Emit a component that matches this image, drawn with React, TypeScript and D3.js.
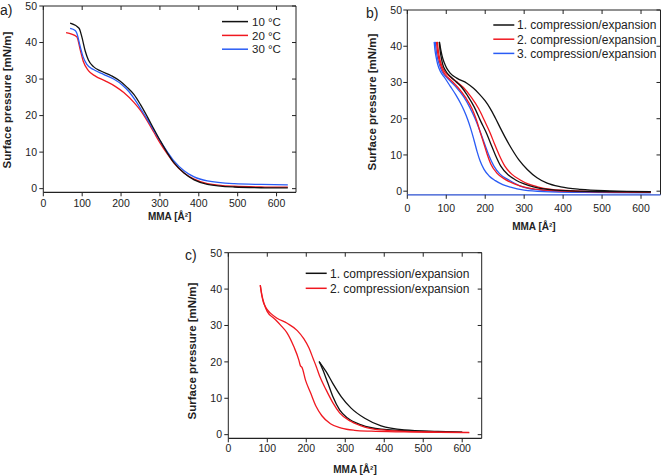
import React from 'react';
import * as d3 from 'd3';

type Pt = [number, number];

const xTicks = [0, 100, 200, 300, 400, 500, 600];
const yTicks = [0, 10, 20, 30, 40, 50];

// Panel a) temperature series
const aLabels = ['10 °C', '20 °C', '30 °C'];
const a10: Pt[] = [[69,45.3],[92,43.9],[99,41.6],[108,37.6],[116,35.2],[129,33.4],[148,32.2],[175,30.9],[198,29.4],[215,27.8],[233,25.8],[250,23.0],[267,19.8],[284,16.4],[301,13.1],[319,9.8],[336,7.1],[362,4.3],[388,2.4],[422,1.2],[491,0.45],[560,0.25],[629,0.2]];
const a20: Pt[] = [[58.6,42.7],[86,41.6],[95,38],[103,34.8],[116,32.3],[134,30.8],[159,29.5],[185,28],[207,26.3],[233,23.6],[250,21.4],[267,18.6],[284,15.5],[301,12.4],[319,9.5],[336,7.0],[362,4.3],[388,2.6],[422,1.4],[491,0.65],[560,0.45],[629,0.4]];
const a30: Pt[] = [[69,43.9],[82,43.3],[86,42.6],[95,38.9],[102,36.2],[112,34],[129,32.6],[155,31.3],[181,30],[203,28.4],[220,26.6],[236,24.3],[252,21.6],[268,18.9],[284,16.0],[301,13.0],[319,10.1],[336,7.6],[362,4.9],[388,3.2],[422,2.1],[491,1.35],[560,1.15],[629,1.05]];

// Panel b) three compression/expansion cycles (two branches each)
const bLabels = ['1. compression/expansion', '2. compression/expansion', '3. compression/expansion'];
const b1Out: Pt[] = [[82.5,41.2],[86,39],[89,37.5],[93,36],[97,34.9],[103,33.6],[110,32.6],[127,31.2],[153,29.8],[170,28.4],[185,26.8],[200,24.9],[213,22.8],[226,20.2],[239,17.4],[252,14.7],[269,11.5],[286,8.7],[308,6],[333,3.7],[359,2.2],[394,1.2],[445,0.5],[520,0.1],[625,-0.1]];
const b1In: Pt[] = [[82,41.2],[84,39],[87,37],[91,35],[98,33.3],[112,31.5],[125,30.2],[138,28.9],[155,26.3],[172,23.2],[188,19.4],[205,15.6],[216,12.6],[226,10],[240,6.9],[258,4.6],[278,3.1],[300,2],[324,1.2],[360,0.5],[420,0.1],[500,-0.1],[625,-0.2]];
const b2Out: Pt[] = [[77,41.2],[80,38.5],[84,36.2],[89,34.5],[96,33],[110,31.6],[127,30.2],[144,28.6],[165,25.8],[183,22.8],[198,19.5],[213,16],[224,13],[235,10.2],[250,7],[268,4.7],[290,3.1],[310,2],[334,1.2],[370,0.5],[430,0.1],[520,-0.1],[625,-0.2]];
const b2In: Pt[] = [[75,41.2],[77,39],[80,37],[85,35],[92,33],[105,31.3],[118,30],[130,28.6],[150,25.8],[166,22.8],[178,19.5],[188,16],[198,12.6],[205,10.2],[214,7.6],[230,5],[252,3.2],[275,2],[298,1.2],[340,0.4],[400,0],[500,-0.2],[625,-0.3]];
const b3In: Pt[] = [[69,41.2],[71,39],[74,37],[78,35],[85,33],[96,31.3],[110,29],[125,26.5],[136,24.4],[146,22.2],[155,19.8],[163,17.2],[171,14.2],[179,11],[187,8.3],[197,6],[210,4.2],[226,2.9],[245,1.8],[265,1.1],[300,0.3],[350,-0.1],[450,-0.3],[625,-0.4]];
const b3Out: Pt[] = [[72,41.2],[74,39],[77,37],[82,35],[89,33],[102,31.3],[123,29],[145,26],[160,23.2],[175,19.8],[190,15.6],[200,12.6],[209,10],[222,7],[238,4.7],[262,3],[290,1.4],[330,0.4],[400,-0.1],[500,-0.3],[625,-0.4]];

// Panel c) two cycles
const cLabels = ['1. compression/expansion', '2. compression/expansion'];
const c1Up: Pt[] = [[233,20.1],[251,17.3],[268,14.1],[290,10.4],[315,7.3],[350,4.5],[392,2.4],[452,1.3],[538,0.9],[600,0.7]];
const c1Low: Pt[] = [[233,20.1],[242.7,17.8],[255.6,14.1],[268.4,10.4],[285.5,6.8],[306.8,4.5],[341,2.7],[392,1.5],[495,0.9],[600,0.65]];
const c2Up: Pt[] = [[82,41.1],[84,39.5],[86.5,37.9],[90,36.4],[95,35.2],[101,34.2],[108,33.4],[125,32],[151,30.6],[177,28.6],[194,26.3],[207,23.8],[218,20.8],[226,18.6],[234,16.2],[251,12.3],[268,8.8],[285.5,6.0],[315,3.6],[350,2.1],[392,1.3],[453,0.9],[540,0.7],[618,0.6]];
const c2Low: Pt[] = [[82,41.1],[86,38.5],[91.5,36.1],[100,33.8],[117,32],[134,30.1],[151,27.9],[168,24.2],[181,20.5],[185,18.9],[189,18.5],[198,15],[211,11.5],[225,7.8],[240,5.2],[262,3.0],[290,1.8],[324,1.2],[367,0.95],[450,0.75],[540,0.62],[618,0.55]];

const BLACK = '#111111';
const RED = '#f01820';
const BLUE = '#2a5cf5';
const FONT = '"Liberation Sans", Arial, Helvetica, sans-serif';

interface Series { data: Pt[]; color: string; }
interface LegendItem { label: string; color: string; }
interface PanelCfg {
  left: number; top: number; width: number; height: number;
  tag: string; tagX: number; tagY: number;
  yTitleX: number; yTitleY: number;
  yLabelRight: number; xLabelBaseline: number; xTitleBaseline: number;
  series: Series[];
  legend: LegendItem[];
  legX1: number; legX2: number; legTextX: number; legY: number; legStep: number; legFont: number;
  bottomColor: string;
}

const panels: PanelCfg[] = [
  {
    left: 43.3, top: 6, width: 252.7, height: 186.3,
    tag: 'a)', tagX: 0, tagY: 15,
    yTitleX: 6.5, yTitleY: 100,
    yLabelRight: 37, xLabelBaseline: 207, xTitleBaseline: 220,
    series: [
      { data: a20, color: RED },
      { data: a30, color: BLUE },
      { data: a10, color: BLACK },
    ],
    legend: [
      { label: aLabels[0], color: BLACK },
      { label: aLabels[1], color: RED },
      { label: aLabels[2], color: BLUE },
    ],
    legX1: 222, legX2: 248, legTextX: 252, legY: 21.6, legStep: 13.8, legFont: 11.5,
    bottomColor: '#222',
  },
  {
    left: 407.3, top: 10, width: 253.2, height: 184.8,
    tag: 'b)', tagX: 366, tagY: 17.5,
    yTitleX: 372, yTitleY: 102,
    yLabelRight: 402, xLabelBaseline: 211.5, xTitleBaseline: 229.5,
    series: [
      { data: b3In, color: BLUE },
      { data: b3Out, color: BLUE },
      { data: b2In, color: RED },
      { data: b2Out, color: RED },
      { data: b1In, color: BLACK },
      { data: b1Out, color: BLACK },
    ],
    legend: [
      { label: bLabels[0], color: BLACK },
      { label: bLabels[1], color: RED },
      { label: bLabels[2], color: BLUE },
    ],
    legX1: 493.3, legX2: 514.3, legTextX: 517, legY: 25, legStep: 14.2, legFont: 12,
    bottomColor: '#2a4fd0',
  },
  {
    left: 228.3, top: 252.7, width: 253.4, height: 185.6,
    tag: 'c)', tagX: 185, tagY: 259.5,
    yTitleX: 192, yTitleY: 351,
    yLabelRight: 222, xLabelBaseline: 451.5, xTitleBaseline: 473,
    series: [
      { data: c1Up, color: BLACK },
      { data: c1Low, color: BLACK },
      { data: c2Up, color: RED },
      { data: c2Low, color: RED },
    ],
    legend: [
      { label: cLabels[0], color: BLACK },
      { label: cLabels[1], color: RED },
    ],
    legX1: 305.7, legX2: 326.7, legTextX: 330, legY: 273.3, legStep: 15, legFont: 12,
    bottomColor: '#222',
  },
];

function Panel({ cfg }: { cfg: PanelCfg }) {
  const { left, top, width, height } = cfg;
  const right = left + width;
  const bottom = top + height;
  const x = d3.scaleLinear().domain([0, 650]).range([left, right]);
  const y = d3.scaleLinear().domain([-1, 50]).range([bottom, top]);
  const line = d3.line<Pt>().x(d => x(d[0])).y(d => y(d[1])).curve(d3.curveMonotoneX);
  const tk = 4;
  const axisColor = '#222';
  return (
    <g>
      {cfg.series.map((s, i) => (
        <path key={i} d={line(s.data) || ''} fill="none" stroke={s.color} strokeWidth={1.3} strokeLinejoin="round" />
      ))}
      <line x1={left} x2={right} y1={top} y2={top} stroke={axisColor} strokeWidth={1} />
      <line x1={right} x2={right} y1={top} y2={bottom} stroke={axisColor} strokeWidth={1} />
      <line x1={left} x2={left} y1={top} y2={bottom} stroke={axisColor} strokeWidth={1} />
      <line x1={left} x2={right} y1={bottom} y2={bottom} stroke={cfg.bottomColor} strokeWidth={1.2} />
      {xTicks.map(t => (
        <g key={'x' + t}>
          <line x1={x(t)} x2={x(t)} y1={bottom} y2={bottom + tk} stroke={axisColor} />
          <line x1={x(t)} x2={x(t)} y1={top} y2={top + tk} stroke={axisColor} />
          <text x={x(t)} y={cfg.xLabelBaseline} textAnchor="middle" fontSize={10.5} fontFamily={FONT} fill="#222">{t}</text>
        </g>
      ))}
      {yTicks.map(t => (
        <g key={'y' + t}>
          <line x1={left - tk} x2={left} y1={y(t)} y2={y(t)} stroke={axisColor} />
          <line x1={right - tk} x2={right} y1={y(t)} y2={y(t)} stroke={axisColor} />
          <text x={cfg.yLabelRight} y={y(t) + 3.8} textAnchor="end" fontSize={10.5} fontFamily={FONT} fill="#222">{t}</text>
        </g>
      ))}
      <text x={(left + right) / 2} y={cfg.xTitleBaseline} textAnchor="middle" fontSize={10} fontWeight="bold" fontFamily={FONT} fill="#222">
        MMA [Å²]
      </text>
      <text transform={`translate(${cfg.yTitleX},${cfg.yTitleY}) rotate(-90)`} textAnchor="middle" dy="0.35em" fontSize={11.5} fontWeight="bold" fontFamily={FONT} fill="#222">
        Surface pressure [mN/m]
      </text>
      <text x={cfg.tagX} y={cfg.tagY} fontSize={14} fontFamily={FONT} fill="#222">{cfg.tag}</text>
      {cfg.legend.map((l, i) => {
        const ly = cfg.legY + i * cfg.legStep;
        return (
          <g key={'l' + i}>
            <line x1={cfg.legX1} x2={cfg.legX2} y1={ly} y2={ly} stroke={l.color} strokeWidth={1.5} />
            <text x={cfg.legTextX} y={ly + cfg.legFont * 0.36} fontSize={cfg.legFont} fontFamily={FONT} fill="#222">{l.label}</text>
          </g>
        );
      })}
    </g>
  );
}

export default function App() {
  return (
    <svg width={662} height={475} viewBox="0 0 662 475" style={{ position: 'absolute', left: 0, top: 0, background: '#fff' }}>
      <rect x={0} y={0} width={662} height={475} fill="#fff" />
      {panels.map((p, i) => <Panel key={i} cfg={p} />)}
    </svg>
  );
}
